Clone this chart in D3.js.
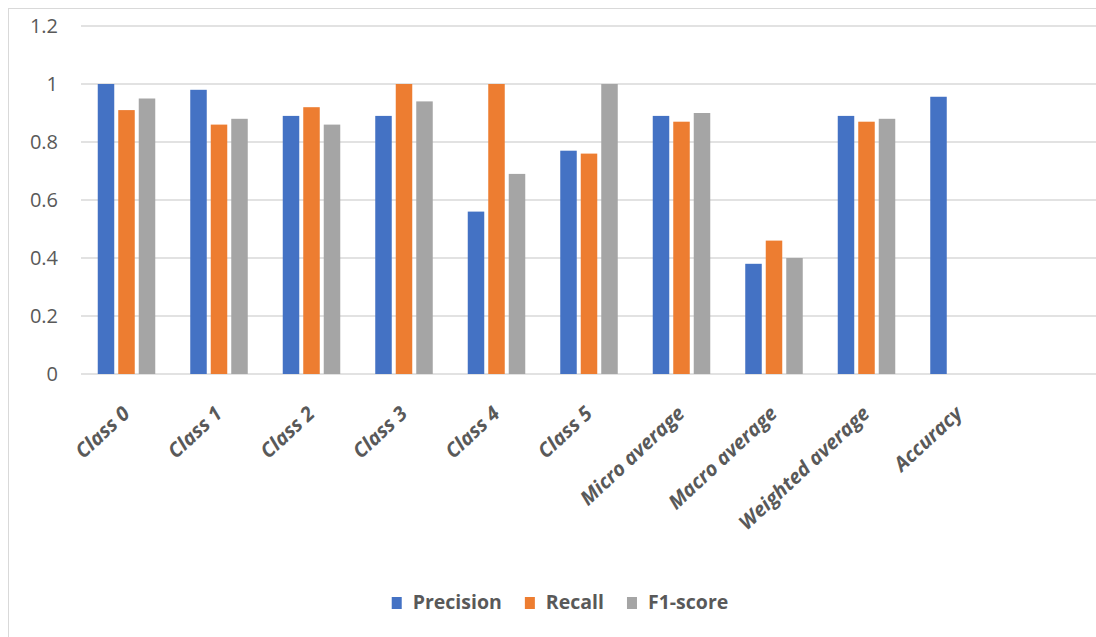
<!DOCTYPE html>
<html>
<head>
<meta charset="utf-8">
<script src="https://cdn.jsdelivr.net/npm/d3@7"></script>
<style>
  html, body { margin: 0; padding: 0; background: #fff; }
  svg { display: block; font-family: "Open Sans", "Segoe UI", sans-serif; }
</style>
</head>
<body>
<div id="viz"></div>
<script>
const categories = ["Class 0", "Class 1", "Class 2", "Class 3", "Class 4", "Class 5",
  "Micro average", "Macro average", "Weighted average", "Accuracy"];
const series = ["Precision", "Recall", "F1-score"];
const colors = ["#4472c4", "#ed7d31", "#a5a5a5"];

const precision = [1.0, 0.98, 0.89, 0.89, 0.56, 0.77, 0.89, 0.38, 0.89, 0.956];
const recall    = [0.91, 0.86, 0.92, 1.0, 1.0, 0.76, 0.87, 0.46, 0.87, null];
const f1score   = [0.95, 0.88, 0.86, 0.94, 0.69, 1.0, 0.90, 0.40, 0.88, null];
const yTicks = [0, 0.2, 0.4, 0.6, 0.8, 1, 1.2];

const W = 1096, H = 637;
const plotLeft = 81, plotTop = 26, plotBottom = 374;
const bandW = 92.5;

const svg = d3.select("#viz").append("svg")
  .attr("width", W).attr("height", H);

// chart frame
svg.append("rect")
  .attr("x", 8.5).attr("y", 8.5)
  .attr("width", W + 20).attr("height", H + 20)
  .attr("fill", "#fff").attr("stroke", "#d9d9d9").attr("stroke-width", 1);

const x = d3.scaleBand()
  .domain(categories)
  .range([plotLeft, plotLeft + bandW * categories.length]);

const y = d3.scaleLinear().domain([0, 1.2]).range([plotBottom, plotTop]);

const xs = d3.scaleBand()
  .domain(series)
  .range([0, 57.5])
  .paddingInner(0.195);

// gridlines
svg.append("g")
  .selectAll("line")
  .data(yTicks)
  .join("line")
  .attr("x1", plotLeft).attr("x2", W)
  .attr("y1", d => y(d)).attr("y2", d => y(d))
  .attr("stroke", "#d9d9d9")
  .attr("stroke-width", 1.5);

// y axis labels
svg.append("g")
  .selectAll("text")
  .data(yTicks)
  .join("text")
  .attr("x", 58)
  .attr("y", d => y(d))
  .attr("dy", "0.35em")
  .attr("text-anchor", "end")
  .attr("fill", "#595959")
  .attr("font-size", 20)
  .text(d => String(+d.toFixed(1)));

// bars
const rows = categories.map((c, i) => ({
  cat: c,
  vals: [precision[i], recall[i], f1score[i]]
}));

const groups = svg.append("g")
  .selectAll("g")
  .data(rows)
  .join("g")
  .attr("transform", d => `translate(${x(d.cat) + x.bandwidth() / 2 - 29.5},0)`);

groups.selectAll("rect")
  .data(d => d.vals.map((v, j) => ({ s: series[j], v, j })).filter(e => e.v != null))
  .join("rect")
  .attr("x", d => xs(d.s))
  .attr("width", xs.bandwidth())
  .attr("y", d => y(d.v))
  .attr("height", d => y(0) - y(d.v))
  .attr("fill", d => colors[d.j]);

// x labels
svg.append("g")
  .selectAll("text")
  .data(categories)
  .join("text")
  .attr("transform", d => `translate(${x(d) + x.bandwidth() / 2 - 1},410) rotate(-43)`)
  .attr("dy", "0.35em")
  .attr("text-anchor", "end")
  .attr("fill", "#595959")
  .attr("font-size", 20)
  .attr("font-style", "italic")
  .attr("font-weight", 700)
  .text(d => d);

// legend
const legend = svg.append("g");
const items = legend.selectAll("g")
  .data(series)
  .join("g");
items.append("rect")
  .attr("y", 597)
  .attr("width", 10).attr("height", 12)
  .attr("fill", (d, i) => colors[i]);
items.append("text")
  .attr("x", 21)
  .attr("y", 609)
  .attr("fill", "#595959")
  .attr("font-size", 19.5)
  .attr("font-weight", 700)
  .text(d => d);

let cx = 0;
const offsets = [];
items.each(function () {
  const tw = d3.select(this).select("text").node().getComputedTextLength();
  offsets.push(cx);
  cx += 21 + tw + 23;
});
const total = cx - 23;
const startX = 560 - total / 2;
items.attr("transform", (d, i) => `translate(${startX + offsets[i]},0)`);
</script>
</body>
</html>
